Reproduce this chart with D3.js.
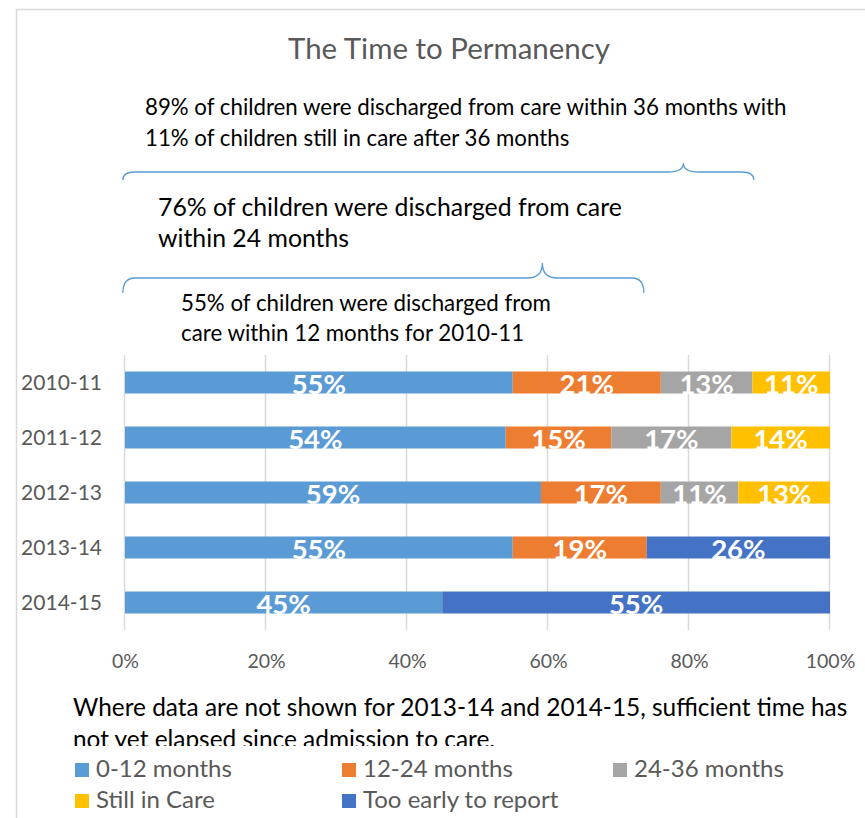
<!doctype html>
<html lang="en">
<head>
    <meta charset="utf-8"/>
    <title>The Time to Permanency</title>
    <script src="https://d3js.org/d3.v7.min.js"></script>
    <style>
        body { margin: 0; background: #fff; }
        text { font-family: Lato, "Open Sans", sans-serif; }
    </style>
</head>
<body>

<svg id="chart"></svg>

<script>
    // chart data
    const years = ["2010-11", "2011-12", "2012-13", "2013-14", "2014-15"];
    const seriesNames = ["0-12 months", "12-24 months", "24-36 months", "Still in Care", "Too early to report"];
    const months0to12 = [55, 54, 59, 55, 45];
    const months12to24 = [21, 15, 17, 19, 0];
    const months24to36 = [13, 17, 11, 0, 0];
    const stillInCare = [11, 14, 13, 0, 0];
    const tooEarly = [0, 0, 0, 26, 55];
    const xTicks = [0, 20, 40, 60, 80, 100];

    const titleText = "The Time to Permanency";
    const note36 = ["89% of children were discharged from care within 36 months with",
        "11% of children still in care after 36 months"];
    const note24 = ["76% of children were discharged from care", "within 24 months"];
    const note12 = ["55% of children were discharged from", "care within 12 months for 2010-11"];
    const footnote = ["Where data are not shown for 2013-14 and 2014-15, sufficient time has",
        "not yet elapsed since admission to care."];

    const colors = ["#5B9BD5", "#ED7D31", "#A5A5A5", "#FFC000", "#4472C4"];

    let width = 865,
        height = 818;

    const rows = years.map((y, i) => ({
        year: y,
        s0: months0to12[i], s1: months12to24[i], s2: months24to36[i],
        s3: stillInCare[i], s4: tooEarly[i]
    }));
    const keys = ["s0", "s1", "s2", "s3", "s4"];

    var svg = d3.select("#chart")
        .attr("width", width)
        .attr("height", height);

    // outer chart frame (runs off the right and bottom)
    svg.append("rect")
        .attr("x", 16.5).attr("y", 9.5)
        .attr("width", 1000).attr("height", 1000)
        .attr("fill", "none")
        .attr("stroke", "#d9d9d9")
        .attr("stroke-width", 1.5);

    // scale a text so its first line is as wide as in the picture
    function fit(sel, target) {
        const w = sel.node().getComputedTextLength();
        const fs = parseFloat(sel.attr("font-size"));
        return fs * target / w;
    }

    let x = d3.scaleLinear().domain([0, 100]).range([125, 830]);
    let y = d3.scaleBand().domain(years).range([355, 630]).paddingInner(0.6).paddingOuter(0.3);

    // gridlines
    svg.append("g")
        .selectAll("line")
        .data(xTicks)
        .join("line")
        .attr("x1", d => x(d) - 0.5).attr("x2", d => x(d) - 0.5)
        .attr("y1", 355).attr("y2", 630)
        .attr("stroke", "#d9d9d9")
        .attr("stroke-width", 1.5);

    // x axis labels
    const xAxis = svg.append("g")
        .attr("transform", "translate(0,668)")
        .call(d3.axisBottom(x).tickValues(xTicks).tickFormat(d => d + "%").tickSize(0).tickPadding(0));
    xAxis.select(".domain").remove();
    xAxis.selectAll("text")
        .attr("dy", 0)
        .attr("fill", "#595959")
        .style("font-family", "Lato, sans-serif")
        .style("font-size", "19.5px");

    // y axis labels
    const yAxis = svg.append("g")
        .attr("transform", "translate(102,0)")
        .call(d3.axisLeft(y).tickSize(0).tickPadding(0));
    yAxis.select(".domain").remove();
    yAxis.selectAll("text")
        .attr("dy", "0.37em")
        .attr("fill", "#595959")
        .style("font-family", "Lato, sans-serif")
        .style("font-size", "21px");

    // stacked bars
    const stacked = d3.stack().keys(keys)(rows);

    const layers = svg.append("g")
        .selectAll("g")
        .data(stacked)
        .join("g")
        .attr("fill", (d, i) => colors[i]);

    layers.selectAll("rect")
        .data(d => d.filter(p => p[1] > p[0]))
        .join("rect")
        .attr("x", d => x(d[0]))
        .attr("width", d => x(d[1]) - x(d[0]))
        .attr("y", d => y(d.data.year))
        .attr("height", y.bandwidth());

    layers.selectAll("text")
        .data(d => d.filter(p => p[1] > p[0]))
        .join("text")
        .attr("x", d => (x(d[0]) + x(d[1])) / 2)
        .attr("y", d => y(d.data.year) + y.bandwidth() + 0.5)
        .attr("text-anchor", "middle")
        .attr("fill", "#ffffff")
        .attr("font-weight", 700)
        .attr("font-size", 27.5)
        .text(d => Math.round(d[1] - d[0]) + "%");

    // title
    const title = svg.append("text")
        .attr("x", 449).attr("y", 59)
        .attr("text-anchor", "middle")
        .attr("fill", "#595959")
        .attr("font-size", 26)
        .text(titleText);
    title.attr("font-size", fit(title, 322));

    // annotation text blocks
    function block(lines, x0, y0, lead, target) {
        const g = svg.append("g");
        const t = g.selectAll("text")
            .data(lines)
            .join("text")
            .attr("x", x0)
            .attr("y", (d, i) => y0 + i * lead)
            .attr("fill", "#000000")
            .attr("font-size", 20)
            .text(d => d);
        const fs = fit(d3.select(t.nodes()[0]), target);
        t.attr("font-size", fs);
        return g;
    }

    block(note36, 145, 115, 31, 642);
    block(note24, 158, 216, 31, 464);
    block(note12, 181, 311, 30, 370);

    // curly braces, ends pointing down, tip pointing up
    function brace(x0, x1, xt, yl, ye, yt) {
        const r = 12, rt = 15;
        const p = d3.path();
        p.moveTo(x0, ye);
        p.quadraticCurveTo(x0, yl, x0 + r, yl);
        p.lineTo(xt - rt, yl);
        p.quadraticCurveTo(xt, yl, xt, yt);
        p.quadraticCurveTo(xt, yl, xt + rt, yl);
        p.lineTo(x1 - r, yl);
        p.quadraticCurveTo(x1, yl, x1, ye);
        svg.append("path")
            .attr("d", p.toString())
            .attr("fill", "none")
            .attr("stroke", "#5B9BD5")
            .attr("stroke-width", 1.3);
    }

    brace(x(-0.3), x(89.2), x(79.2), 172, 180, 163);
    brace(x(-0.3), x(73.6), x(59.2), 278, 293, 263);

    // footnote, the second line is cut off by its text box
    svg.append("clipPath")
        .attr("id", "noteClip")
        .append("rect")
        .attr("x", 0).attr("y", 680)
        .attr("width", width).attr("height", 66);

    const fn = block(footnote, 73, 716, 32, 775);
    fn.attr("clip-path", "url(#noteClip)");

    // legend
    const legendPos = [[75, 777], [342, 777], [613, 777], [75, 808], [342, 808]];
    const legend = svg.append("g")
        .selectAll("g")
        .data(seriesNames)
        .join("g")
        .attr("transform", (d, i) => "translate(" + legendPos[i][0] + "," + legendPos[i][1] + ")");

    legend.append("rect")
        .attr("x", 0).attr("y", -14)
        .attr("width", 14).attr("height", 14)
        .attr("fill", (d, i) => colors[i]);

    const legendText = legend.append("text")
        .attr("x", 21).attr("y", 0)
        .attr("fill", "#595959")
        .attr("font-size", 22)
        .text(d => d);
    legendText.attr("font-size", fit(d3.select(legendText.nodes()[0]), 136));

</script>

</body>
</html>
